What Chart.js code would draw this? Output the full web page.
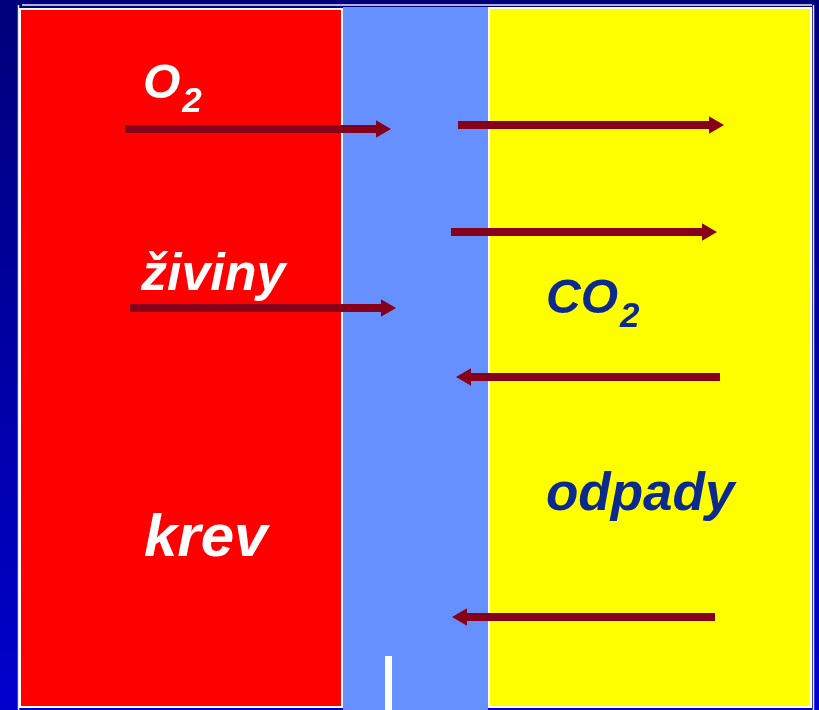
<!DOCTYPE html>
<html>
<head>
<meta charset="utf-8">
<script src="https://cdn.jsdelivr.net/npm/chart.js@4/dist/chart.umd.min.js"></script>
<style>
  html, body { margin: 0; padding: 0; }
  body {
    width: 819px; height: 710px; overflow: hidden;
    background: linear-gradient(to bottom, #00007a 0%, #0000a8 55%, #0000cc 100%);
  }
  canvas { display: block; }
</style>
</head>
<body>
<canvas id="chart" width="819" height="710"></canvas>
<script>
// Diagram data, in picture units (x 0..819, y 0..710, y downwards)
const panelNames = ['krev', 'membrana', 'bunka'];
const panelLeft = [20, 343, 489];
const panelRight = [342, 488, 811];
const panelTop = [9, 7, 8];
const panelBottom = [707, 710, 707];

// arrows: start x, tip x, y
const arrowStart = [125, 458, 451, 130, 720, 715];
const arrowTip = [391, 724, 717, 396, 456, 452];
const arrowY = [129, 125, 232, 308, 377, 617];

const labels = ['O', 'živiny', 'krev', 'CO', 'odpady'];
const labelSub = ['2', '', '', '2', ''];
const labelX = [143, 141, 144, 546, 546];
const labelY = [98, 290, 556, 313, 510];

const PANEL_COLORS = ['#ff0000', '#6690ff', '#ffff00'];
const PANEL_BORDER = ['#ffffff', null, '#ffffff'];
const LABEL_COLORS = ['#ffffff', '#ffffff', '#ffffff', '#0b2a8c', '#0b2a8c'];
const LABEL_SIZES = [48, 52, 60, 48, 53];
const ARROW_COLOR = '#86001a';
const HEAD = 10;
const FONT = '"Liberation Sans", Arial, sans-serif';

const panelPlugin = {
    id: 'panels',
    beforeDatasetsDraw(chart) {
        const { ctx, scales: { x, y } } = chart;
        ctx.save();
        // thin light lines round the slide area
        ctx.strokeStyle = '#e8ecff';
        ctx.lineWidth = 1.5;
        ctx.beginPath();
        ctx.moveTo(x.getPixelForValue(22), y.getPixelForValue(5));
        ctx.lineTo(x.getPixelForValue(812), y.getPixelForValue(5));
        ctx.moveTo(x.getPixelForValue(813.5), y.getPixelForValue(5));
        ctx.lineTo(x.getPixelForValue(813.5), y.getPixelForValue(710));
        ctx.moveTo(x.getPixelForValue(18.5), y.getPixelForValue(5));
        ctx.lineTo(x.getPixelForValue(18.5), y.getPixelForValue(710));
        ctx.stroke();

        panelNames.forEach((name, i) => {
            const x0 = x.getPixelForValue(panelLeft[i]);
            const x1 = x.getPixelForValue(panelRight[i]);
            const y0 = y.getPixelForValue(panelTop[i]);
            const y1 = y.getPixelForValue(panelBottom[i]);
            ctx.fillStyle = PANEL_COLORS[i];
            ctx.fillRect(x0, y0, x1 - x0, y1 - y0);
            if (PANEL_BORDER[i]) {
                ctx.strokeStyle = PANEL_BORDER[i];
                ctx.lineWidth = 2;
                ctx.strokeRect(x0, y0, x1 - x0, y1 - y0);
            }
        });

        // white post at the bottom of the membrane
        ctx.fillStyle = '#ffffff';
        const px0 = x.getPixelForValue(385), px1 = x.getPixelForValue(392);
        const py0 = y.getPixelForValue(656), py1 = y.getPixelForValue(710);
        ctx.fillRect(px0, py0, px1 - px0, py1 - py0);
        ctx.restore();
    },
    afterDatasetsDraw(chart) {
        const { ctx, scales: { x, y } } = chart;
        ctx.save();
        ctx.textBaseline = 'alphabetic';
        labels.forEach((text, i) => {
            const size = LABEL_SIZES[i];
            const px = x.getPixelForValue(labelX[i]);
            const py = y.getPixelForValue(labelY[i]);
            ctx.fillStyle = LABEL_COLORS[i];
            ctx.font = `italic bold ${size}px ${FONT}`;
            ctx.fillText(text, px, py);
            if (labelSub[i]) {
                const w = ctx.measureText(text).width;
                ctx.font = `italic bold ${Math.round(size * 0.72)}px ${FONT}`;
                ctx.fillText(labelSub[i], px + w + 2, py + 14);
            }
        });
        ctx.restore();
    },
};

const datasets = arrowStart.map((start, i) => {
    const dir = arrowTip[i] > start ? 1 : -1;
    const headCenter = arrowTip[i] - dir * HEAD;
    return {
        data: [{ x: start, y: arrowY[i] }, { x: headCenter, y: arrowY[i] }],
        borderColor: ARROW_COLOR,
        borderWidth: 8,
        borderCapStyle: 'butt',
        pointStyle: 'triangle',
        pointRadius: [0, HEAD],
        pointRotation: [0, dir > 0 ? 90 : -90],
        pointBackgroundColor: ARROW_COLOR,
        pointBorderWidth: 0,
        pointHoverRadius: 0,
        showLine: true,
        tension: 0,
    };
});

new Chart(document.getElementById('chart'), {
    type: 'scatter',
    data: { datasets },
    options: {
        responsive: false,
        animation: false,
        layout: { padding: 0, autoPadding: false },
        plugins: { legend: { display: false }, tooltip: { enabled: false } },
        scales: {
            x: { type: 'linear', min: 0, max: 819, display: false },
            y: { type: 'linear', min: 0, max: 710, reverse: true, display: false },
        },
    },
    plugins: [panelPlugin],
});
</script>
</body>
</html>
